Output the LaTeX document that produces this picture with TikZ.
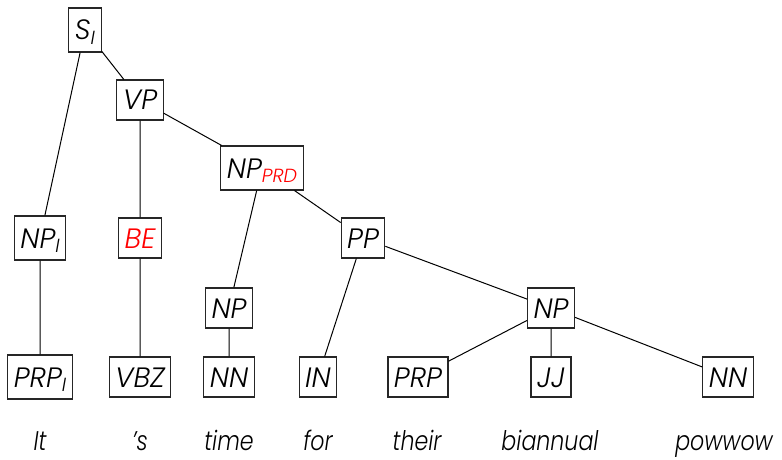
\documentclass[tikz,border=0pt]{standalone}
\usepackage{fontspec}
\setmainfont{Poppins}[ItalicFont={* Light Italic}]
\newfontfamily\wordfont{Poppins}[ItalicFont={* Light Italic},ItalicFeatures={FakeStretch=0.82}]
\begin{document}
\newcommand{\lbl}[1]{\raisebox{-0.3ex}{\fontsize{19}{19}\selectfont #1}}
\begin{tikzpicture}[x=1pt,y=-1pt,
  every node/.style={font=\fontsize{28}{28}\selectfont\itshape},
  cat/.style={draw=black!85,line width=1.1pt,fill=white,inner xsep=6pt,inner ysep=0pt,minimum height=40pt,text height=20pt,text depth=0pt},
  subcat/.style={cat,minimum height=44pt},
  word/.style={inner sep=0pt,anchor=base,font=\fontsize{27}{27}\wordfont\itshape},
  edge/.style={draw=black,line width=1pt}]
\useasboundingbox (0,0) rectangle (782,460);
% phrase-level nodes
\node[subcat] (S)   at (85,30)   {S\lbl{I}};
\node[cat]    (VP)  at (140,100) {VP};
\node[subcat] (NPp) at (262,168) {NP\lbl{\color{red}PRD}};
\node[subcat] (NPi) at (40,238)  {NP\lbl{I}};
\node[cat,text=red] (BE) at (140,238) {BE};
\node[cat]    (PP)  at (363,238) {PP};
\node[cat]    (NPa) at (229,308) {NP};
\node[cat]    (NPb) at (551,308) {NP};
% part-of-speech nodes
\node[subcat] (PRPi) at (40,377)  {PRP\lbl{I}};
\node[cat]    (VBZ)  at (140,377) {VBZ};
\node[cat]    (NNa)  at (229,377) {NN};
\node[cat]    (IN)   at (318,377) {IN};
\node[cat]    (PRP)  at (418,377) {PRP};
\node[cat]    (JJ)   at (551,377) {JJ};
\node[cat]    (NNb)  at (728,377) {NN};
% words
\node[word] (w1) at (40,450)  {It};
\node[word] (w2) at (140,450) {’s};
\node[word] (w3) at (229,450) {time};
\node[word] (w4) at (318,450) {for};
\node[word] (w5) at (417,450) {their};
\node[word] (w6) at (550,450) {biannual};
\node[word] (w7) at (724,450) {powwow};
% branches
\path[edge] (S) -- (NPi)  (S) -- (VP)
  (VP) -- (BE)  (VP) -- (NPp)
  (NPi) -- (PRPi)  (BE) -- (VBZ)
  (NPp) -- (NPa)  (NPp) -- (PP)
  (NPa) -- (NNa)  (PP) -- (IN)  (PP) -- (NPb)
  (NPb) -- (PRP)  (NPb) -- (JJ)  (NPb) -- (NNb);
\end{tikzpicture}
\end{document}
